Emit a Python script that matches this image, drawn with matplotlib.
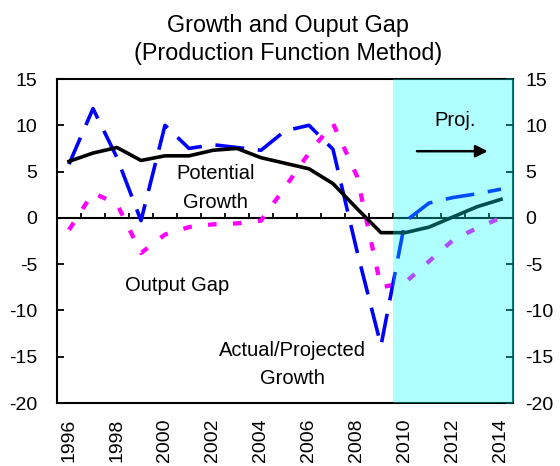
import matplotlib
matplotlib.use("Agg")
import matplotlib.pyplot as plt
import numpy as np

years = list(range(1996, 2015))
potential_growth = [6.1, 7.0, 7.6, 6.2, 6.7, 6.7, 7.3, 7.5, 6.5, 5.9, 5.3, 3.7, 1.0,
                    -1.6, -1.6, -1.0, 0.1, 1.2, 2.0]
actual_growth = [5.8, 11.8, 6.5, -0.3, 10.0, 7.5, 7.9, 7.6, 7.3, 9.4, 10.0, 7.4, -3.6,
                 -13.8, -0.4, 1.6, 2.2, 2.6, 3.1]
output_gap = [-1.3, 2.7, 1.5, -3.8, -1.8, -1.0, -0.7, -0.6, -0.3, 3.3, 7.0, 10.2, 4.5,
              -7.5, -7.0, -4.7, -2.4, -1.1, 0.0]
year_labels = [str(y) for y in range(1996, 2015, 2)]
y_ticks = [-20, -15, -10, -5, 0, 5, 10, 15]
proj_start = 2010

plt.rcParams['font.family'] = ['Liberation Sans', 'DejaVu Sans']

fig = plt.figure(figsize=(5.6, 4.66), dpi=100)
ax = fig.add_axes([57/560, 1-403/466, 456/560, 324/466])

x0, x1 = years[0] - 0.5, years[-1] + 0.5
ax.set_xlim(x0, x1)
ax.set_ylim(-20, 15)

# series
ax.plot(years, output_gap, color='#ff00ff', lw=3.1, dashes=(2.0, 3.8), zorder=3,
        dash_capstyle='butt')
ax.plot(years, actual_growth, color='#0000ff', lw=2.6, dashes=(8.0, 3.8), zorder=4,
        dash_capstyle='butt')
ax.plot(years, potential_growth, color='black', lw=2.6, zorder=5)

# zero line with category ticks
ax.axhline(0, color='black', lw=1.5, zorder=2)
for b in np.arange(years[0] + 0.5, years[-1], 1.0):
    ax.plot([b, b], [0, 0.55], color='black', lw=1.3, zorder=2, solid_capstyle='butt')

# projection shading (drawn over the lines)
ax.axvspan(proj_start - 0.5, x1, color='#00ffff', alpha=0.31, lw=0, zorder=6)

# annotations
fs = 14.5
ax.text(2002.1, 4.2, 'Potential', ha='center', va='baseline', fontsize=fs, zorder=7)
ax.text(2002.1, 1.1, 'Growth', ha='center', va='baseline', fontsize=fs, zorder=7)
ax.text(2000.5, -7.85, 'Output Gap', ha='center', va='baseline', fontsize=fs, zorder=7)
ax.text(2005.3, -14.95, 'Actual/Projected', ha='center', va='baseline', fontsize=fs, zorder=7)
ax.text(2005.3, -17.95, 'Growth', ha='center', va='baseline', fontsize=fs, zorder=7)
ax.text(2012.1, 9.9, 'Proj.', ha='center', va='baseline', fontsize=fs, zorder=7)
ax.annotate('', xy=(2013.45, 7.2), xytext=(2010.5, 7.2),
            arrowprops=dict(arrowstyle='-|>', color='black', lw=1.8,
                            mutation_scale=18, shrinkA=0, shrinkB=0), zorder=7)

# axes styling
ax.set_xticks(years[::2])
ax.set_xticklabels(year_labels, rotation=90, fontsize=14)
ax.tick_params(axis='x', length=0, pad=11)
ax.set_yticks(y_ticks)
ax.set_yticklabels([str(v) for v in y_ticks], fontsize=14)
ax.tick_params(axis='y', direction='in', length=5, width=1.3, pad=14)
for s in ['left', 'bottom', 'top']:
    ax.spines[s].set_linewidth(1.5)
ax.spines['right'].set_linewidth(1.5)
ax.spines['right'].set_color('#005050')

ax2 = ax.twinx()
ax2.set_ylim(-20, 15)
ax2.set_yticks(y_ticks)
ax2.set_yticklabels([str(v) for v in y_ticks], fontsize=14)
ax2.tick_params(axis='y', direction='in', length=5, width=1.3, pad=9, color='#005050')
for s in ax2.spines.values():
    s.set_visible(False)

fig.text(0.514, 1-32/466, 'Growth and Ouput Gap', ha='center', va='baseline', fontsize=16.8)
fig.text(0.514, 1-60/466, '(Production Function Method)', ha='center', va='baseline', fontsize=16.8)

fig.savefig('out.png', dpi=100)
